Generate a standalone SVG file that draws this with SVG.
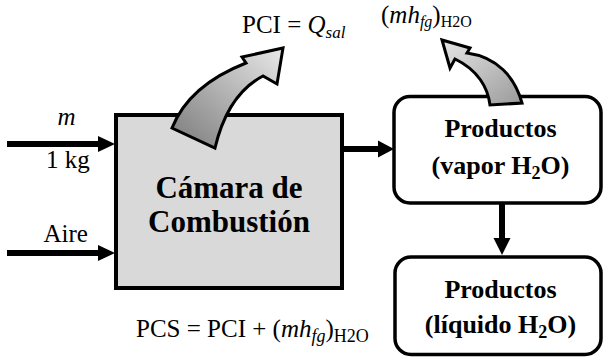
<svg xmlns="http://www.w3.org/2000/svg" width="604" height="358" viewBox="0 0 604 358">
<defs>
<style>
.t{font-family:"Liberation Serif","Times New Roman",serif;font-size:25px;fill:#000}
.b{font-family:"Liberation Serif","Times New Roman",serif;font-weight:bold;fill:#000}
.i{font-style:italic}
.ln{stroke:#000;stroke-width:6;fill:none}
.hd{fill:#000}
.curve{stroke:#000;stroke-width:3;stroke-linejoin:miter}
</style>
<linearGradient id="g1" x1="0" y1="1" x2="1" y2="0">
<stop offset="0" stop-color="#7a7a7a"/>
<stop offset="1" stop-color="#e8e8e8"/>
</linearGradient>
<linearGradient id="g2" x1="1" y1="1" x2="0" y2="0">
<stop offset="0" stop-color="#9a9a9a"/>
<stop offset="1" stop-color="#e6e6e6"/>
</linearGradient>
</defs>
<rect width="604" height="358" fill="#fff"/>

<g id="camara">
<rect x="116" y="115" width="226" height="173" fill="#d9d9d9" stroke="#000" stroke-width="4"/>
<text class="b" font-size="31" x="229" y="198" text-anchor="middle">Cámara de</text>
<text class="b" font-size="31" x="229" y="231.5" text-anchor="middle">Combustión</text>
</g>

<g id="productos-vapor">
<rect x="394" y="96.5" width="207" height="106.5" rx="16" fill="#fff" stroke="#000" stroke-width="3.5"/>
<text class="b" font-size="26" x="500.5" y="137" text-anchor="middle">Productos</text>
<text class="b" font-size="26" x="500.5" y="174" text-anchor="middle">(vapor H<tspan font-size="18" dy="5">2</tspan><tspan dy="-5">O)</tspan></text>
</g>

<g id="productos-liquido">
<rect x="395" y="257" width="206" height="97.5" rx="16" fill="#fff" stroke="#000" stroke-width="3.5"/>
<text class="b" font-size="26" x="500.5" y="298" text-anchor="middle">Productos</text>
<text class="b" font-size="26" x="500.5" y="333" text-anchor="middle">(líquido H<tspan font-size="18" dy="5">2</tspan><tspan dy="-5">O)</tspan></text>
</g>

<g id="connectors">
<line class="ln" x1="7" y1="144" x2="100" y2="144"/>
<polygon class="hd" points="98,136 115,144 98,152"/>
<line class="ln" x1="7" y1="253" x2="100" y2="253"/>
<polygon class="hd" points="98,245 115,253 98,261"/>
<line class="ln" x1="342" y1="149" x2="380" y2="149"/>
<polygon class="hd" points="378,140.5 394,149 378,157.5"/>
<line class="ln" x1="502" y1="203" x2="502" y2="240"/>
<polygon class="hd" points="493.5,238 502,255 510.5,238"/>
<path id="arrow-pci" class="curve" fill="url(#g1)" d="M172,128 C182,103 205,79 246,63 L242,57 L283,48 L277,84 L263,76 C240,88 224,110 215,148 Z"/>
<path id="arrow-hfg" class="curve" fill="url(#g2)" d="M490,105 C488,88 478,70 455,59 L450,68 L442,40 L470,48 L467,53 C497,57 515,77 522,103 Z"/>
</g>

<g id="labels">
<text class="t i" x="66.5" y="125" text-anchor="middle">m</text>
<text class="t" x="46" y="168">1 kg</text>
<text class="t" x="43.5" y="242">Aire</text>
<text class="t" x="242" y="33">PCI = <tspan class="i">Q</tspan><tspan class="i" font-size="17" dy="5">sal</tspan></text>
<text class="t" font-size="23" x="381" y="23">(<tspan class="i">mh</tspan><tspan class="i" font-size="16" dy="4">fg</tspan><tspan dy="-4">)</tspan><tspan font-size="16" dy="4">H2O</tspan></text>
<text class="t" x="136" y="337">PCS = PCI + (<tspan class="i">mh</tspan><tspan class="i" font-size="18" dy="5">fg</tspan><tspan dy="-5">)</tspan><tspan font-size="18" dy="5">H2O</tspan></text>
</g>
</svg>
